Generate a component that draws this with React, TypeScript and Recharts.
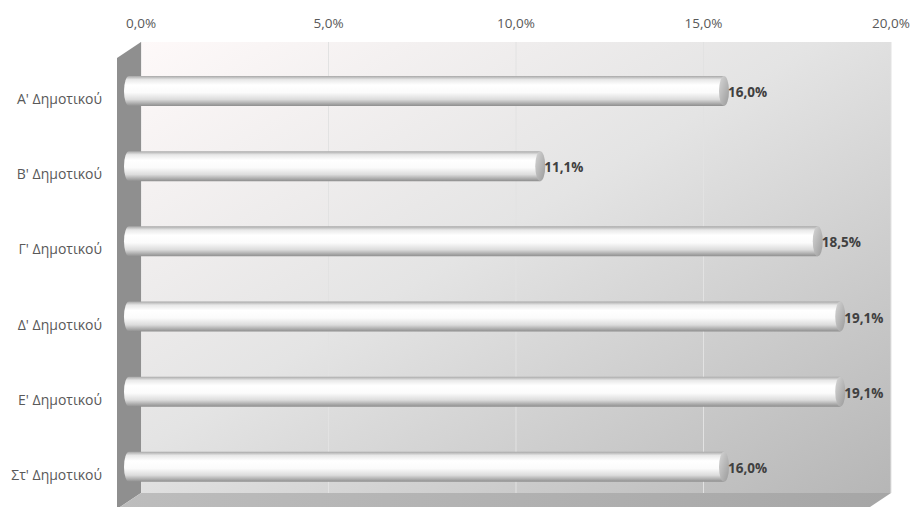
import React from "react";
import { BarChart, Bar, XAxis, YAxis, CartesianGrid, LabelList } from "recharts";

// κατηγορίες και ποσοστά (%)
const grades = ["Α' Δημοτικού", "Β' Δημοτικού", "Γ' Δημοτικού", "Δ' Δημοτικού", "Ε' Δημοτικού", "Στ' Δημοτικού"];
const shares = [16.0, 11.1, 18.5, 19.1, 19.1, 16.0];
const xTicks = [0, 5, 10, 15, 20];

const data = grades.map((name, i) => ({ name, value: shares[i] }));

const W = 910;
const H = 507;
const M = { top: 12, right: 19, bottom: 14, left: 0 };
const X_AXIS_H = 30;
const Y_AXIS_W = 141;
// 3D offsets
const DX = -17;
const DY = 11;
const WALL_DX = -24;
const WALL_DY = 16;

const plotL = M.left + Y_AXIS_W;
const plotR = W - M.right;
const plotT = M.top + X_AXIS_H;
const plotB = H - M.bottom;

const FONT = "'Open Sans', sans-serif";
const fmt = (v: number) => v.toFixed(1).replace(".", ",") + "%";

function Cylinder(props: any) {
  const { x, y, width, height } = props;
  const x0 = x + DX;
  const x1 = x + width + DX;
  const yt = y + DY;
  const r = height / 2;
  const cy = yt + r;
  const rx = 5;
  const body = `M ${x0 + rx} ${yt} L ${x1} ${yt} L ${x1} ${yt + height} L ${x0 + rx} ${yt + height} A ${rx} ${r} 0 0 1 ${x0 + rx} ${yt} Z`;
  return (
    <g>
      <path d={body} fill="url(#cylBody)" />
      <ellipse cx={x1} cy={cy} rx={rx} ry={r} fill="url(#cylCap)" />
    </g>
  );
}

function ValueLabel(props: any) {
  const { x, y, width, height, value } = props;
  return (
    <text
      x={x + width + DX + 4}
      y={y + DY + height / 2 + 1}
      dominantBaseline="central"
      fontFamily={FONT}
      fontSize={13.5}
      fontWeight="bold"
      fill="#404040"
    >
      {fmt(value)}
    </text>
  );
}

function GradeTick(props: any) {
  const { y, payload } = props;
  return (
    <text
      x={102}
      y={y + DY + 8}
      textAnchor="end"
      dominantBaseline="central"
      fontFamily={FONT}
      fontSize={14}
      fill="#595959"
    >
      {payload.value}
    </text>
  );
}

export default function App() {
  return (
    <div style={{ position: "absolute", left: 0, top: 0, width: W, height: H, background: "#fff" }}>
      <BarChart width={W} height={H} data={data} layout="vertical" margin={M} barSize={30}>
        <defs>
          <linearGradient id="wall" x1="0" y1="0" x2="1" y2="1">
            <stop offset="0%" stopColor="#fef9f9" />
            <stop offset="45%" stopColor="#e4e4e4" />
            <stop offset="100%" stopColor="#b6b6b6" />
          </linearGradient>
          <linearGradient id="floor" x1="0" y1="0" x2="1" y2="0">
            <stop offset="0%" stopColor="#bdbdbd" />
            <stop offset="100%" stopColor="#a6a6a6" />
          </linearGradient>
          <linearGradient id="cylBody" x1="0" y1="0" x2="0" y2="1">
            <stop offset="0%" stopColor="#a8a8a8" />
            <stop offset="12%" stopColor="#e8e8e8" />
            <stop offset="30%" stopColor="#ffffff" />
            <stop offset="55%" stopColor="#fbfbfb" />
            <stop offset="78%" stopColor="#dcdcdc" />
            <stop offset="100%" stopColor="#8e8e8e" />
          </linearGradient>
          <linearGradient id="cylCap" x1="0" y1="0" x2="1" y2="1">
            <stop offset="0%" stopColor="#d6d6d6" />
            <stop offset="100%" stopColor="#9a9a9a" />
          </linearGradient>
        </defs>
        <polygon
          points={`${plotL},${plotT} ${plotL + WALL_DX},${plotT + WALL_DY} ${plotL + WALL_DX},${plotB + WALL_DY} ${plotL},${plotB}`}
          fill="#8f8f8f"
        />
        <polygon
          points={`${plotL},${plotB} ${plotR},${plotB} ${plotR + WALL_DX},${plotB + WALL_DY} ${plotL + WALL_DX},${plotB + WALL_DY}`}
          fill="url(#floor)"
        />
        <CartesianGrid horizontal={false} stroke="#e2e2e2" fill="url(#wall)" />
        <XAxis
          type="number"
          orientation="top"
          domain={[0, 20]}
          ticks={xTicks}
          tickFormatter={fmt}
          height={X_AXIS_H}
          axisLine={false}
          tickLine={false}
          tickMargin={8}
          tick={{ fill: "#595959", fontSize: 13.5, fontFamily: FONT }}
        />
        <YAxis type="category" dataKey="name" width={Y_AXIS_W} axisLine={false} tickLine={false} tick={<GradeTick />} />
        <Bar dataKey="value" shape={<Cylinder />} isAnimationActive={false}>
          <LabelList dataKey="value" content={<ValueLabel />} />
        </Bar>
      </BarChart>
    </div>
  );
}
